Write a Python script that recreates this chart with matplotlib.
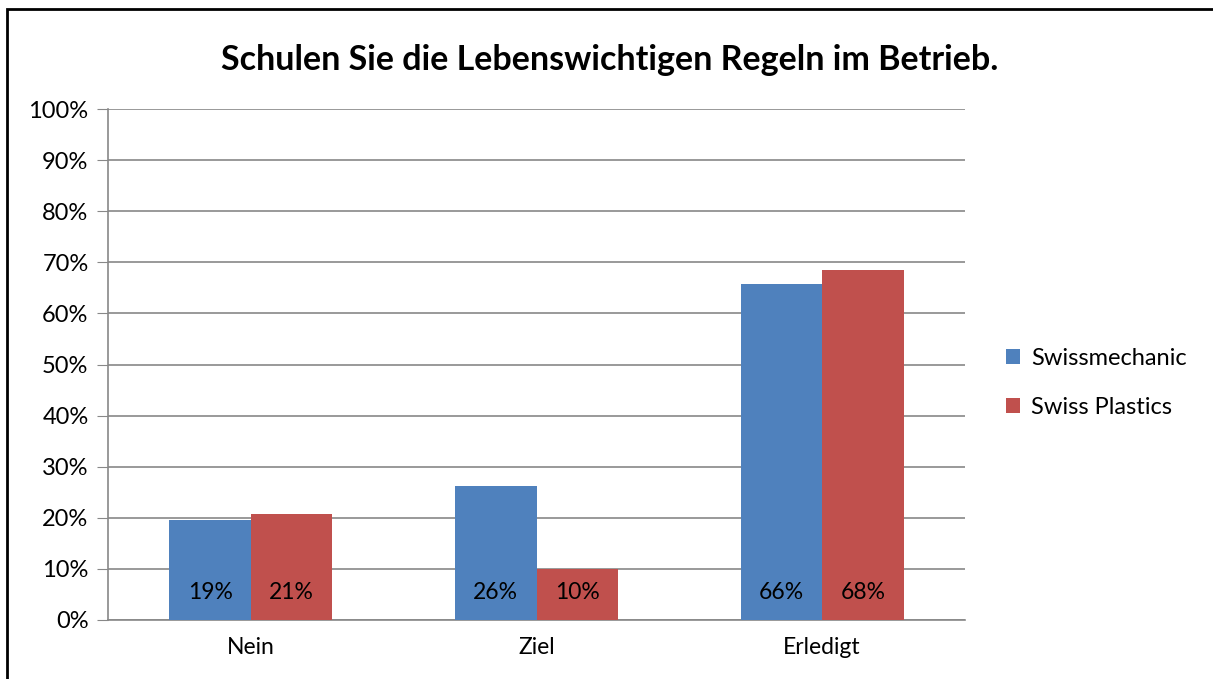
import numpy as np
import matplotlib.pyplot as plt
from matplotlib.patches import Rectangle

plt.rcParams['font.family'] = ['Lato', 'DejaVu Sans']

categories = ["Nein", "Ziel", "Erledigt"]
swissmechanic = [0.196, 0.262, 0.658]
swiss_plastics = [0.207, 0.100, 0.685]
labels_sm = ["19%", "26%", "66%"]
labels_sp = ["21%", "10%", "68%"]

blue = "#4F81BD"
red = "#C0504D"

fig = plt.figure(figsize=(12.13, 6.79), dpi=100)
fig.patches.append(Rectangle((7 / 1213, -0.01), 1.05, 1 - 9 / 679 + 0.01,
                             transform=fig.transFigure, fill=False,
                             edgecolor="black", linewidth=2))
ax = fig.add_axes([108 / 1213, 59 / 679, 857 / 1213, 511 / 679])

x = np.arange(len(categories))
w = 0.285
b1 = ax.bar(x - w / 2, swissmechanic, w, color=blue, label="Swissmechanic", zorder=3)
b2 = ax.bar(x + w / 2, swiss_plastics, w, color=red, label="Swiss Plastics", zorder=3)

for xi, t in zip(x - w / 2, labels_sm):
    ax.text(xi, 0.053, t, ha="center", va="center", fontsize=16.5, zorder=4)
for xi, t in zip(x + w / 2, labels_sp):
    ax.text(xi, 0.053, t, ha="center", va="center", fontsize=16.5, zorder=4)

ax.set_xlim(-0.5, 2.5)
ax.set_ylim(0, 1)
ax.set_yticks(np.arange(0, 1.01, 0.1))
ax.set_yticklabels([f"{int(round(v * 100))}%" for v in np.arange(0, 1.01, 0.1)])
ax.set_xticks(x)
ax.set_xticklabels(categories)
ax.tick_params(axis="y", length=8, color="#888888", labelsize=17, pad=6)
ax.tick_params(axis="x", length=0, labelsize=16.5, pad=12)
ax.grid(axis="y", color="#888888", linewidth=1.2, zorder=0)
for s in ["top", "right"]:
    ax.spines[s].set_visible(False)
ax.spines["left"].set_color("#888888")
ax.spines["bottom"].set_color("#888888")
ax.spines["left"].set_linewidth(1.2)
ax.spines["bottom"].set_linewidth(1.2)

fig.text(0.503, 1 - 60 / 679, "Schulen Sie die Lebenswichtigen Regeln im Betrieb.",
         ha="center", va="center", fontsize=24.5, fontweight="bold")

leg = fig.legend(handles=[b1, b2], loc="center left",
                 bbox_to_anchor=(985 / 1213, 1 - 383 / 679), frameon=False,
                 fontsize=17, handlelength=0.6, handleheight=0.6,
                 handletextpad=0.45, labelspacing=1.2)

fig.savefig("out.png", dpi=100)
